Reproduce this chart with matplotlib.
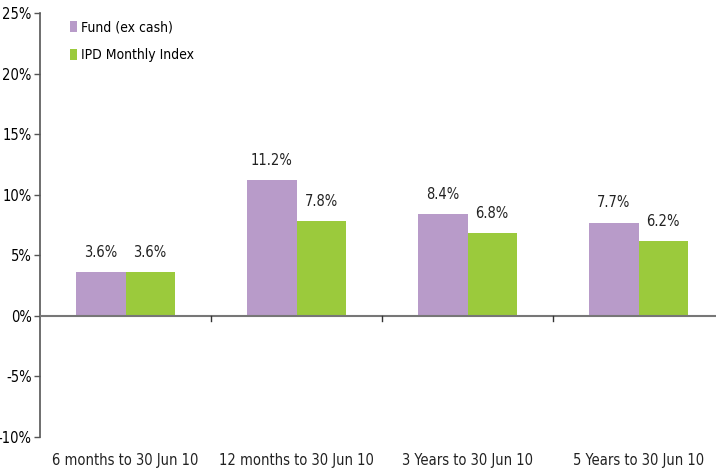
import matplotlib.pyplot as plt
import matplotlib.ticker as mticker
import numpy as np

# 데이터
categories = ["6 months to 30 Jun 10", "12 months to 30 Jun 10",
              "3 Years to 30 Jun 10", "5 Years to 30 Jun 10"]
fund = [3.6, 11.2, 8.4, 7.7]
ipd = [3.6, 7.8, 6.8, 6.2]
series_names = ["Fund (ex cash)", "IPD Monthly Index"]

# 좁은 글꼴 (DejaVu Sans Condensed)
plt.rcParams['font.family'] = ["DejaVu Sans"]
plt.rcParams['font.stretch'] = "condensed"

purple = "#B89BC9"
green = "#9BCA3C"

fig = plt.figure(figsize=(7.16, 4.71), dpi=100)
ax = fig.add_axes([40/716, 1-437/471, 676/716, 424/471])

x = np.arange(len(categories))
w = 0.287
b1 = ax.bar(x - w/2, fund, w, color=purple, label=series_names[0], zorder=2)
b2 = ax.bar(x + w/2, ipd, w, color=green, label=series_names[1], zorder=2)

# 막대 위 값 표시
for bars, vals in [(b1, fund), (b2, ipd)]:
    for r, v in zip(bars, vals):
        ax.text(r.get_x() + r.get_width()/2, v + 1.0, f"{v:.1f}%",
                ha="center", va="bottom", fontsize=10.5, color="#222222")

ax.set_ylim(-10, 25)
ax.set_xlim(-0.5, 3.453)
ax.yaxis.set_major_locator(mticker.MultipleLocator(5))
ax.yaxis.set_major_formatter(mticker.FuncFormatter(lambda v, p: f"{v:.0f}%"))
ax.tick_params(axis="y", labelsize=10.5, length=4, width=1, color="#555555", pad=2)

for s in ["top", "right", "bottom"]:
    ax.spines[s].set_visible(False)
ax.spines["left"].set_color("#555555")
ax.spines["left"].set_linewidth(1.2)
ax.axhline(0, color="#777777", linewidth=1.5, zorder=3)
ax.set_xticks([])
for i in range(1, 4):
    ax.plot([i - 0.5, i - 0.5], [0, -0.4], color="#333333", linewidth=1, zorder=3)
for i, c in enumerate(categories):
    ax.text(i, -11.9, c, ha="center", va="center", fontsize=10.5, color="#222222")

ax.legend(loc="upper left", bbox_to_anchor=(0.044, 0.983), frameon=False,
          fontsize=10, handlelength=0.5, handleheight=0.8, handletextpad=0.3,
          labelspacing=1.0, borderpad=0, borderaxespad=0)

plt.savefig("out.png", dpi=100)
